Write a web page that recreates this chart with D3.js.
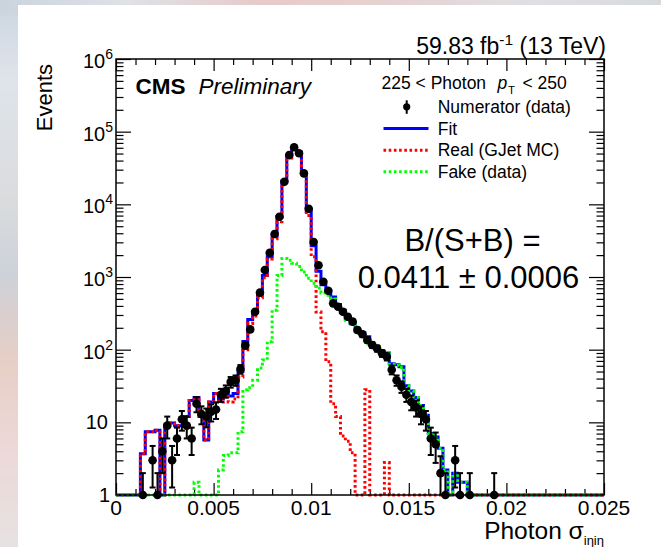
<!DOCTYPE html>
<html>
<head>
<meta charset="utf-8">
<script src="https://cdn.jsdelivr.net/npm/d3@7"></script>
<style>
  html, body { margin: 0; padding: 0; background: #ffffff; }
  svg { display: block; font-family: "Liberation Sans", Arial, Helvetica, sans-serif; }
</style>
</head>
<body>
<svg id="chart" width="661" height="547"></svg>
<script>
// ---- histogram binning: 100 bins of width 0.00025 over [0, 0.025] ----
const binWidth = 0.00025;
const nBins = 100;

// Numerator (data), events per bin
const dataCounts = [
  0, 0, 0, 0, 0, 1, 0, 3, 1, 4,
  9, 3, 6, 11, 9, 6, 18, 13, 12, 14,
  15, 24, 27, 36, 38, 54, 114, 190, 333, 610,
  1250, 2160, 3900, 6750, 20400, 47700, 61000, 50400, 26700, 8700,
  3030, 1450, 860, 648, 434, 390, 333, 284, 243, 186,
  163, 136, 116, 104, 89, 80, 53, 38, 31, 24,
  19, 16, 13, 11, 6, 5, 2, 1, 0, 3,
  1, 0, 1, 0, 0, 0, 0, 1, 0, 0,
  0, 0, 0, 0, 0, 0, 0, 0, 0, 0,
  0, 0, 0, 0, 0, 0, 0, 0, 0, 0
];

// Fit (real + fake templates)
const fitValues = [
  0, 0, 0, 0, 0, 3.7, 7.4, 7.4, 7.8, 0,
  9.2, 9.8, 9, 9, 12, 20, 22, 12, 5.7, 19,
  25, 21, 28, 23, 25, 50, 130, 260, 330, 580,
  1050, 1900, 3700, 6800, 21000, 45000, 59000, 52000, 27000, 8000,
  2700, 1200, 780, 650, 530, 420, 350, 260, 230, 180,
  170, 150, 120, 110, 95, 90, 64, 62, 58, 32,
  27, 22, 17, 12.5, 7, 6.3, 4.4, 2.2, 0.5, 2,
  1.5, 1.5, 0, 0, 0, 0, 0, 0, 0, 0,
  0, 0, 0, 0, 0, 0, 0, 0, 0, 0,
  0, 0, 0, 0, 0, 0, 0, 0, 0, 0
];

// Real photons (GJet MC template)
const realValues = [
  0, 0, 0, 0, 0, 3.7, 7.4, 7.4, 7.8, 0,
  9.2, 9.8, 9, 9, 12, 20, 20.5, 12, 5.7, 19,
  25, 19, 24.5, 19, 21, 42, 100, 230, 290, 520,
  980, 1770, 3350, 5750, 19200, 43300, 57400, 50600, 25800, 7000,
  1900, 330, 176, 68, 18, 12, 6.5, 5.5, 3.8, 0,
  0, 28, 0, 0, 0, 2.8, 0, 0, 0, 0,
  0, 0, 0, 0, 0, 0, 0, 0, 0, 0,
  0, 0, 0, 0, 0, 0, 0, 0, 0, 0,
  0, 0, 0, 0, 0, 0, 0, 0, 0, 0,
  0, 0, 0, 0, 0, 0, 0, 0, 0, 0
];

// Fake photons (data-driven template)
const fakeValues = [
  0, 0, 0, 0, 0, 0, 0, 0, 0, 0,
  0, 0, 0, 0, 0, 0, 1.5, 0, 0, 0,
  0, 2.2, 3.5, 3.8, 3.8, 7.4, 28, 30, 38, 56,
  72, 129, 350, 1050, 1800, 1700, 1550, 1400, 1170, 960,
  820, 700, 600, 560, 500, 410, 345, 255, 225, 178,
  168, 120, 118, 108, 93, 88, 63, 61, 57, 32,
  27, 22, 17, 12.5, 7, 6.3, 4.4, 2.2, 0, 2,
  1.5, 1.5, 0, 0, 0, 0, 0, 0, 0, 0,
  0, 0, 0, 0, 0, 0, 0, 0, 0, 0,
  0, 0, 0, 0, 0, 0, 0, 0, 0, 0
];

// Axis ticks
const xMajorTicks = [0, 0.005, 0.01, 0.015, 0.02, 0.025];
const xTickLabels = ["0", "0.005", "0.01", "0.015", "0.02", "0.025"];
const yDecades = [1, 10, 100, 1000, 10000, 100000, 1000000];
const yExponents = [0, 1, 2, 3, 4, 5, 6];

// Legend entries
const legendHeader = { lead: "225 < Photon", p: "p", sub: "T", tail: "< 250" };
const legendEntries = [
  { label: "Numerator (data)", kind: "data" },
  { label: "Fit", kind: "fit" },
  { label: "Real (GJet MC)", kind: "real" },
  { label: "Fake (data)", kind: "fake" }
];
const resultLines = ["B/(S+B) =", "0.0411 \u00B1 0.0006"];

// ---- layout ----
const W = 661, H = 547;
const frame = { left: 116, right: 604, top: 59, bottom: 495 };
const svg = d3.select("#chart");

// ---- washed-out backdrop around the white panel ----
const defs = svg.append("defs");
const blur = defs.append("filter").attr("id", "soft").attr("x", "-20%").attr("y", "-20%").attr("width", "140%").attr("height", "140%");
blur.append("feGaussianBlur").attr("stdDeviation", 3);

const gLeft = defs.append("linearGradient").attr("id", "bgLeft").attr("x1", 0).attr("y1", 0).attr("x2", 0).attr("y2", 1);
[[0, "#c3cdd9"], [0.06, "#d2dae4"], [0.16, "#dfe4ea"], [0.36, "#dbdcde"], [0.5, "#cdd2d9"],
 [0.56, "#d8cfd0"], [0.66, "#e7cfc6"], [0.8, "#ecd8d7"], [1, "#e6e3e3"]]
  .forEach(([o, c]) => gLeft.append("stop").attr("offset", o).attr("stop-color", c));
const gTop = defs.append("linearGradient").attr("id", "bgTop").attr("x1", 0).attr("y1", 0).attr("x2", 1).attr("y2", 0);
[[0, "#c9d2dd"], [0.2, "#dfe2e6"], [0.4, "#e7caca"], [0.6, "#e6d2d2"], [0.8, "#dfe0e4"], [1, "#d6d9df"]]
  .forEach(([o, c]) => gTop.append("stop").attr("offset", o).attr("stop-color", c));

svg.append("rect").attr("x", 0).attr("y", 0).attr("width", W).attr("height", H).attr("fill", "#dde0e4");
svg.append("rect").attr("x", -10).attr("y", -10).attr("width", 40).attr("height", H + 20)
  .attr("fill", "url(#bgLeft)").attr("filter", "url(#soft)");
svg.append("rect").attr("x", -10).attr("y", -10).attr("width", W + 20).attr("height", 22)
  .attr("fill", "url(#bgTop)").attr("filter", "url(#soft)");

// white canvas
svg.append("rect").attr("x", 18).attr("y", 5).attr("width", W - 18).attr("height", H - 5).attr("fill", "#ffffff");

// ---- scales ----
const x = d3.scaleLinear().domain([0, 0.025]).range([frame.left, frame.right]);
const y = d3.scaleLog().domain([1, 1e6]).range([frame.bottom, frame.top]).clamp(true);

// ---- axes (ticks on all four sides, pointing inward) ----
const xMinorTicks = d3.range(0, 26).map(i => i * 0.001).filter(v => !xMajorTicks.some(m => Math.abs(m - v) < 1e-9));
const yMinorTicks = [];
for (let e = 0; e < 6; e++) for (let k = 2; k <= 9; k++) yMinorTicks.push(k * Math.pow(10, e));

function styleAxis(g) {
  g.select(".domain").remove();
  g.selectAll(".tick line").attr("stroke", "#000").attr("stroke-width", 1.2);
  g.selectAll(".tick text").remove();
}
const axes = svg.append("g");
axes.append("g").attr("transform", `translate(0,${frame.bottom})`)
  .call(d3.axisBottom(x).tickValues(xMajorTicks).tickSize(-12)).call(styleAxis);
axes.append("g").attr("transform", `translate(0,${frame.bottom})`)
  .call(d3.axisBottom(x).tickValues(xMinorTicks).tickSize(-6)).call(styleAxis);
axes.append("g").attr("transform", `translate(0,${frame.top})`)
  .call(d3.axisTop(x).tickValues(xMajorTicks).tickSize(-12)).call(styleAxis);
axes.append("g").attr("transform", `translate(0,${frame.top})`)
  .call(d3.axisTop(x).tickValues(xMinorTicks).tickSize(-6)).call(styleAxis);
axes.append("g").attr("transform", `translate(${frame.left},0)`)
  .call(d3.axisLeft(y).tickValues(yDecades).tickSize(-15)).call(styleAxis);
axes.append("g").attr("transform", `translate(${frame.left},0)`)
  .call(d3.axisLeft(y).tickValues(yMinorTicks).tickSize(-7.5)).call(styleAxis);
axes.append("g").attr("transform", `translate(${frame.right},0)`)
  .call(d3.axisRight(y).tickValues(yDecades).tickSize(-15)).call(styleAxis);
axes.append("g").attr("transform", `translate(${frame.right},0)`)
  .call(d3.axisRight(y).tickValues(yMinorTicks).tickSize(-7.5)).call(styleAxis);

// x tick labels
svg.append("g").selectAll("text").data(xMajorTicks).join("text")
  .attr("x", d => x(d)).attr("y", 515).attr("text-anchor", "middle")
  .attr("font-size", 21).attr("fill", "#000")
  .text((d, i) => xTickLabels[i]);

// y tick labels: 1, 10, 10^2 ... 10^6
const yLab = svg.append("g").attr("font-size", 20).attr("fill", "#000");
yDecades.forEach((v, i) => {
  const e = yExponents[i];
  if (e === 0) {
    yLab.append("text").attr("x", 110).attr("y", y(v) + 7).attr("text-anchor", "end").text("1");
  } else if (e === 1) {
    yLab.append("text").attr("x", 108).attr("y", y(v) + 7).attr("text-anchor", "end").text("10");
  } else {
    const t = yLab.append("text").attr("x", 113).attr("y", y(v) + 9).attr("text-anchor", "end");
    t.append("tspan").text("10");
    t.append("tspan").attr("font-size", 14).attr("dy", -9).text(String(e));
  }
});

// axis titles
svg.append("text").attr("transform", "translate(52,64) rotate(-90)")
  .attr("text-anchor", "end").attr("font-size", 22).attr("fill", "#000").text("Events");
const xt = svg.append("text").attr("x", 604).attr("y", 539).attr("text-anchor", "end")
  .attr("font-size", 24.5).attr("fill", "#000");
xt.append("tspan").text("Photon \u03C3");
xt.append("tspan").attr("font-size", 13).attr("dy", 6).text("i\u03B7i\u03B7");

// ---- histograms (step outlines) ----
function stepPoints(vals) {
  const pts = vals.map((v, i) => [i * binWidth, v]);
  pts.push([vals.length * binWidth, vals[vals.length - 1]]);
  return pts;
}
const stepLine = d3.line()
  .x(d => x(d[0]))
  .y(d => y(Math.max(d[1], 1)))
  .curve(d3.curveStepAfter);

const hists = svg.append("g").attr("fill", "none");
hists.append("path").attr("d", stepLine(stepPoints(fitValues)))
  .attr("stroke", "#0000ff").attr("stroke-width", 3);
hists.append("path").attr("d", stepLine(stepPoints(realValues)))
  .attr("stroke", "#ff0000").attr("stroke-width", 3).attr("stroke-dasharray", "2.6,2.6");
hists.append("path").attr("d", stepLine(stepPoints(fakeValues)))
  .attr("stroke", "#00ff00").attr("stroke-width", 3).attr("stroke-dasharray", "2.6,2.6");

// ---- data points with Poisson error bars ----
const pts = dataCounts.map((n, i) => ({ n, c: (i + 0.5) * binWidth })).filter(d => d.n > 0);
const dg = svg.append("g");
pts.forEach(d => {
  const err = Math.sqrt(d.n);
  const yHi = y(d.n + err);
  const lo = d.n - err;
  const yLo = lo >= 1 ? y(lo) : frame.bottom;
  const cx = x(d.c);
  dg.append("line").attr("x1", cx).attr("x2", cx).attr("y1", yHi).attr("y2", yLo)
    .attr("stroke", "#000").attr("stroke-width", 2);
  dg.append("line").attr("x1", cx - 3).attr("x2", cx + 3).attr("y1", yHi).attr("y2", yHi)
    .attr("stroke", "#000").attr("stroke-width", 2);
  if (lo >= 1) {
    dg.append("line").attr("x1", cx - 3).attr("x2", cx + 3).attr("y1", yLo).attr("y2", yLo)
      .attr("stroke", "#000").attr("stroke-width", 2);
  }
});
dg.selectAll("circle").data(pts).join("circle")
  .attr("cx", d => x(d.c)).attr("cy", d => y(d.n)).attr("r", 4.3).attr("fill", "#000");

// ---- frame ----
svg.append("rect").attr("x", frame.left).attr("y", frame.top)
  .attr("width", frame.right - frame.left).attr("height", frame.bottom - frame.top)
  .attr("fill", "none").attr("stroke", "#000").attr("stroke-width", 1.5);

// ---- header texts ----
const lumi = svg.append("text").attr("x", 606).attr("y", 54).attr("text-anchor", "end")
  .attr("font-size", 23).attr("fill", "#000");
lumi.append("tspan").text("59.83 fb");
lumi.append("tspan").attr("font-size", 15.5).attr("dy", -9).text("-1");
lumi.append("tspan").attr("dy", 9).text(" (13 TeV)");

svg.append("text").attr("x", 135.5).attr("y", 93.5).attr("font-size", 22.5).attr("font-weight", "bold")
  .attr("fill", "#000").text("CMS");
svg.append("text").attr("x", 198.5).attr("y", 93.5).attr("font-size", 22.5).attr("font-style", "italic")
  .attr("fill", "#000").text("Preliminary");

// ---- legend ----
const lg = svg.append("g").attr("font-size", 17.5).attr("fill", "#000");
lg.append("text").attr("x", 381.5).attr("y", 89).text(legendHeader.lead);
lg.append("text").attr("x", 497.5).attr("y", 89).attr("font-style", "italic").text(legendHeader.p);
lg.append("text").attr("x", 508).attr("y", 94).attr("font-size", 11.5).text(legendHeader.sub);
lg.append("text").attr("x", 522.5).attr("y", 89).text(legendHeader.tail);

const rowY = [106.8, 128.5, 150.2, 171.8];
legendEntries.forEach((e, i) => {
  const cy = rowY[i];
  if (e.kind === "data") {
    lg.append("line").attr("x1", 406.7).attr("x2", 406.7).attr("y1", cy - 6.5).attr("y2", cy + 7)
      .attr("stroke", "#000").attr("stroke-width", 2);
    lg.append("circle").attr("cx", 406.7).attr("cy", cy).attr("r", 3.6).attr("fill", "#000");
  } else {
    const col = e.kind === "fit" ? "#0000ff" : e.kind === "real" ? "#ff0000" : "#00ff00";
    const ln = lg.append("line").attr("x1", 383.5).attr("x2", 428.5).attr("y1", cy).attr("y2", cy)
      .attr("stroke", col).attr("stroke-width", 3);
    if (e.kind !== "fit") ln.attr("stroke-dasharray", "2.6,2.6");
  }
  lg.append("text").attr("x", 437.7).attr("y", cy + 6).text(e.label);
});

// ---- fit result ----
svg.append("text").attr("x", 472.5).attr("y", 251).attr("text-anchor", "middle")
  .attr("font-size", 31).attr("fill", "#000").text(resultLines[0]);
svg.append("text").attr("x", 468.5).attr("y", 288).attr("text-anchor", "middle")
  .attr("font-size", 31).attr("fill", "#000").text(resultLines[1]);
</script>
</body>
</html>
